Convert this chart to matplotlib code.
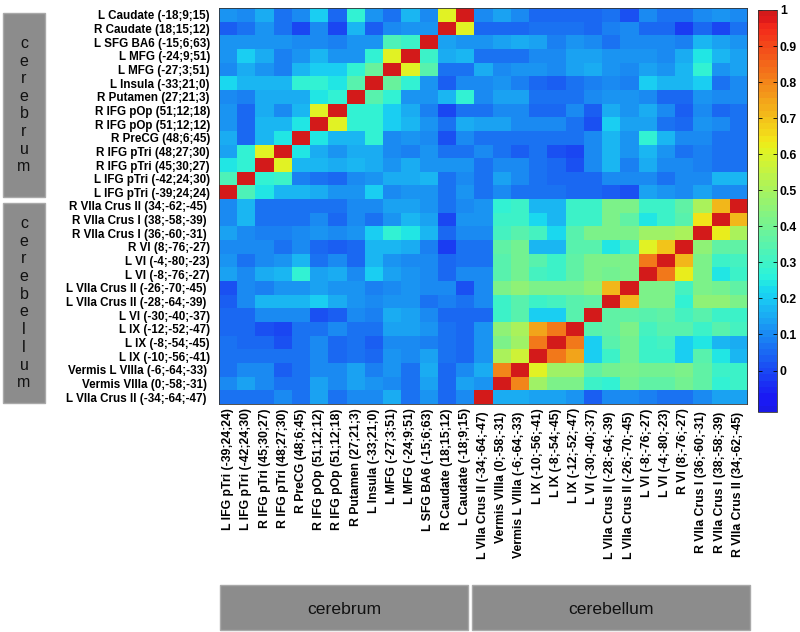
import numpy as np
import matplotlib
matplotlib.use("Agg")
import matplotlib.pyplot as plt
from matplotlib.colors import ListedColormap
from matplotlib.patches import Rectangle

# ---------------- data ----------------
# region names in column order (left -> right)
cerebrum_regions = [
    "L IFG pTri (-39;24;24)", "L IFG pTri (-42;24;30)", "R IFG pTri (45;30;27)",
    "R IFG pTri (48;27;30)", "R PreCG (48;6;45)", "R IFG pOp (51;12;12)",
    "R IFG pOp (51;12;18)", "R Putamen (27;21;3)", "L Insula (-33;21;0)",
    "L MFG (-27;3;51)", "L MFG (-24;9;51)", "L SFG BA6 (-15;6;63)",
    "R Caudate (18;15;12)", "L Caudate (-18;9;15)",
]
cerebellum_regions = [
    "L VIIa Crus II (-34;-64;-47)", "Vermis VIIIa (0;-58;-31)", "Vermis L VIIIa (-6;-64;-33)",
    "L IX (-10;-56;-41)", "L IX (-8;-54;-45)", "L IX (-12;-52;-47)", "L VI (-30;-40;-37)",
    "L VIIa Crus II (-28;-64;-39)", "L VIIa Crus II (-26;-70;-45)", "L VI (-8;-76;-27)",
    "L VI (-4;-80;-23)", "R VI (8;-76;-27)", "R VIIa Crus I (36;-60;-31)",
    "R VIIa Crus I (38;-58;-39)", "R VIIa Crus II (34;-62;-45)",
]

# rows listed top -> bottom (cerebrum regions in reverse order), columns = cerebrum order
cerebrum_block = [
    [0.12, 0.10, 0.15, 0.07, 0.10, 0.20, 0.05, 0.27, 0.12, 0.07, 0.17, 0.10, 0.60, 1.00],
    [0.04, 0.06, 0.12, 0.06, 0.00, 0.10, 0.00, 0.18, 0.03, 0.10, 0.12, 0.12, 1.00, 0.60],
    [0.12, 0.12, 0.12, 0.12, 0.10, 0.10, 0.08, 0.12, 0.12, 0.33, 0.30, 1.00, 0.13, 0.12],
    [0.12, 0.20, 0.15, 0.08, 0.12, 0.17, 0.12, 0.12, 0.27, 0.60, 1.00, 0.30, 0.15, 0.17],
    [0.10, 0.15, 0.12, 0.08, 0.17, 0.20, 0.20, 0.27, 0.38, 1.00, 0.60, 0.35, 0.06, 0.06],
    [0.22, 0.17, 0.17, 0.17, 0.27, 0.27, 0.25, 0.35, 1.00, 0.38, 0.27, 0.12, 0.03, 0.10],
    [0.10, 0.08, 0.15, 0.15, 0.15, 0.25, 0.27, 1.00, 0.35, 0.27, 0.12, 0.12, 0.17, 0.27],
    [0.12, 0.05, 0.15, 0.10, 0.17, 0.60, 1.00, 0.27, 0.27, 0.20, 0.15, 0.08, 0.00, 0.06],
    [0.12, 0.05, 0.17, 0.17, 0.25, 1.00, 0.60, 0.27, 0.27, 0.20, 0.17, 0.12, 0.06, 0.15],
    [0.15, 0.05, 0.17, 0.25, 1.00, 0.25, 0.17, 0.17, 0.27, 0.10, 0.12, 0.10, 0.02, 0.10],
    [0.13, 0.27, 0.60, 1.00, 0.25, 0.15, 0.12, 0.15, 0.15, 0.10, 0.08, 0.12, 0.06, 0.06],
    [0.25, 0.27, 1.00, 0.60, 0.17, 0.17, 0.15, 0.17, 0.15, 0.12, 0.15, 0.12, 0.12, 0.12],
    [0.33, 1.00, 0.27, 0.30, 0.08, 0.07, 0.05, 0.10, 0.12, 0.15, 0.15, 0.17, 0.06, 0.10],
    [1.00, 0.33, 0.25, 0.17, 0.17, 0.15, 0.12, 0.12, 0.20, 0.10, 0.12, 0.12, 0.06, 0.12],
]

# same rows (cerebrum, top -> bottom), columns = cerebellum order
cross_block = [
    [0.10, 0.13, 0.10, 0.05, 0.05, 0.05, 0.05, 0.07, 0.02, 0.10, 0.07, 0.07, 0.10, 0.12, 0.10],
    [0.05, 0.05, 0.05, 0.07, 0.07, 0.07, 0.05, 0.08, 0.10, 0.05, 0.05, -0.02, 0.05, 0.00, 0.07],
    [0.12, 0.14, 0.16, 0.14, 0.08, 0.12, 0.10, 0.07, 0.10, 0.10, 0.10, 0.08, 0.17, 0.13, 0.12],
    [0.06, 0.07, 0.07, 0.10, 0.10, 0.13, 0.14, 0.12, 0.12, 0.12, 0.10, 0.15, 0.25, 0.17, 0.13],
    [0.15, 0.10, 0.12, 0.12, 0.10, 0.14, 0.15, 0.12, 0.10, 0.13, 0.12, 0.17, 0.28, 0.12, 0.13],
    [0.10, 0.12, 0.08, 0.05, 0.03, 0.07, 0.08, 0.10, 0.08, 0.20, 0.17, 0.17, 0.20, 0.06, 0.10],
    [0.10, 0.13, 0.13, 0.07, 0.06, 0.07, 0.10, 0.12, 0.12, 0.10, 0.05, 0.05, 0.12, 0.10, 0.10],
    [0.06, 0.10, 0.10, 0.05, 0.05, 0.10, 0.04, 0.15, 0.12, 0.15, 0.10, 0.04, 0.10, 0.05, 0.07],
    [0.14, 0.13, 0.10, 0.10, 0.10, 0.07, 0.01, 0.20, 0.13, 0.13, 0.07, 0.05, 0.12, 0.10, 0.07],
    [0.07, 0.07, 0.07, 0.07, 0.07, 0.06, 0.10, 0.17, 0.12, 0.28, 0.17, 0.10, 0.10, 0.07, 0.07],
    [0.10, 0.07, 0.04, 0.06, 0.02, 0.00, 0.10, 0.17, 0.12, 0.17, 0.12, 0.07, 0.08, 0.07, 0.06],
    [0.06, 0.10, 0.10, 0.07, 0.05, 0.01, 0.10, 0.17, 0.08, 0.15, 0.10, 0.10, 0.08, 0.07, 0.06],
    [0.06, 0.14, 0.10, 0.07, 0.05, 0.05, 0.05, 0.10, 0.10, 0.10, 0.07, 0.10, 0.10, 0.17, 0.17],
    [0.06, 0.10, 0.07, 0.07, 0.06, 0.05, 0.05, 0.03, 0.02, 0.13, 0.12, 0.10, 0.13, 0.10, 0.10],
]

# rows top -> bottom (cerebellum regions in reverse order), columns = cerebellum order
cerebellum_block = [
    [0.12, 0.27, 0.30, 0.17, 0.17, 0.30, 0.30, 0.42, 0.42, 0.30, 0.30, 0.37, 0.50, 0.72, 1.00],
    [0.12, 0.30, 0.30, 0.22, 0.17, 0.30, 0.30, 0.42, 0.37, 0.25, 0.30, 0.35, 0.65, 1.00, 0.72],
    [0.10, 0.32, 0.35, 0.32, 0.22, 0.35, 0.42, 0.42, 0.42, 0.48, 0.48, 0.50, 1.00, 0.62, 0.50],
    [0.07, 0.37, 0.40, 0.17, 0.17, 0.35, 0.35, 0.25, 0.32, 0.60, 0.70, 1.00, 0.45, 0.37, 0.37],
    [0.07, 0.35, 0.40, 0.35, 0.30, 0.37, 0.42, 0.42, 0.42, 0.82, 1.00, 0.72, 0.42, 0.30, 0.32],
    [0.10, 0.35, 0.40, 0.32, 0.30, 0.37, 0.42, 0.40, 0.42, 1.00, 0.82, 0.62, 0.42, 0.25, 0.30],
    [0.10, 0.42, 0.45, 0.42, 0.42, 0.42, 0.45, 0.72, 1.00, 0.42, 0.42, 0.32, 0.42, 0.40, 0.37],
    [0.10, 0.30, 0.35, 0.30, 0.32, 0.35, 0.37, 1.00, 0.72, 0.42, 0.42, 0.27, 0.45, 0.45, 0.42],
    [0.05, 0.30, 0.35, 0.20, 0.20, 0.35, 1.00, 0.37, 0.37, 0.35, 0.37, 0.32, 0.35, 0.30, 0.30],
    [0.12, 0.45, 0.50, 0.75, 0.82, 1.00, 0.35, 0.37, 0.42, 0.32, 0.35, 0.35, 0.30, 0.35, 0.32],
    [0.12, 0.42, 0.48, 0.82, 1.00, 0.82, 0.20, 0.35, 0.40, 0.30, 0.32, 0.20, 0.25, 0.18, 0.15],
    [0.12, 0.50, 0.58, 1.00, 0.82, 0.75, 0.20, 0.30, 0.40, 0.30, 0.30, 0.20, 0.35, 0.25, 0.17],
    [0.15, 0.80, 1.00, 0.60, 0.48, 0.48, 0.37, 0.40, 0.42, 0.40, 0.40, 0.42, 0.37, 0.30, 0.30],
    [0.12, 1.00, 0.80, 0.48, 0.42, 0.42, 0.30, 0.27, 0.40, 0.37, 0.37, 0.40, 0.37, 0.27, 0.30],
    [1.00, 0.15, 0.15, 0.13, 0.13, 0.12, 0.04, 0.10, 0.10, 0.08, 0.07, 0.07, 0.10, 0.13, 0.13],
]

colorbar_ticks = [0, 0.1, 0.2, 0.3, 0.4, 0.5, 0.6, 0.7, 0.8, 0.9, 1]
colorbar_ticklabels = ["0", "0.1", "0.2", "0.3", "0.4", "0.5", "0.6", "0.7", "0.8", "0.9", "1"]
group_names = ["cerebrum", "cerebellum"]

# ---------------- assemble matrix (symmetric correlation matrix) ----------------
A = np.array(cerebrum_block)
B = np.array(cross_block)
Cb = np.array(cerebellum_block)
BL = B.T[::-1, ::-1]          # lower-left block follows from symmetry
M = np.block([[A, B], [BL, Cb]])

col_labels = cerebrum_regions + cerebellum_regions
row_labels = cerebrum_regions[::-1] + cerebellum_regions[::-1]


def padded(lbl):
    # the Crus / VIIIa labels sit slightly further from the matrix in the original
    return lbl + " " if "IIa" in lbl else lbl


# truncated, slightly muted jet (MATLAB-like, 64 steps)
base = plt.get_cmap("jet")(np.linspace(0.1, 0.92, 64))
mute = 0.15
base[:, :3] = base[:, :3] * (1 - mute) + 0.68 * mute
cmap = ListedColormap(base)
vmin, vmax = -0.115, 1.0

FONT = "Liberation Sans"
W, H = 800, 632
fig = plt.figure(figsize=(W / 100, H / 100), dpi=100)


def fax(x0, y0, x1, y1):
    return [x0 / W, 1 - y1 / H, (x1 - x0) / W, (y1 - y0) / H]


# background axes in pixel coordinates for group boxes
bg = fig.add_axes([0, 0, 1, 1], zorder=0)
bg.set_xlim(0, W)
bg.set_ylim(H, 0)
bg.axis("off")

ax = fig.add_axes(fax(219, 8, 747, 404), zorder=2)
im = ax.imshow(M, cmap=cmap, vmin=vmin, vmax=vmax, aspect="auto", interpolation="nearest")
n = len(col_labels)
ax.set_xticks(np.arange(n))
ax.set_xticklabels([padded(s) for s in col_labels], rotation=90, fontsize=8.85,
                   fontweight="bold", family=FONT)
ax.set_yticks(np.arange(n))
ax.set_yticklabels([padded(s) for s in row_labels], fontsize=8.4, fontweight="bold", family=FONT)
ax.tick_params(axis="both", length=0)
ax.tick_params(axis="x", pad=3)
ax.tick_params(axis="y", pad=6.5)
for s in ax.spines.values():
    s.set_linewidth(0.6)
    s.set_color("#333333")

cax = fig.add_axes(fax(758, 10, 777, 412), zorder=2)
cb = fig.colorbar(im, cax=cax, ticks=colorbar_ticks)
cb.ax.set_yticklabels(colorbar_ticklabels, fontsize=8.8, fontweight="bold", family=FONT)
cb.ax.tick_params(direction="in", length=3, width=0.6, left=True, right=True, pad=2)
cb.outline.set_linewidth(0.6)
cb.outline.set_edgecolor("#333333")

box_face = "#8c8c8c"
box_edge = "#a9a9a9"
# left group boxes
bg.add_patch(Rectangle((3, 13), 42, 184, facecolor=box_face, edgecolor=box_edge, lw=1))
bg.add_patch(Rectangle((3, 203), 42, 200, facecolor=box_face, edgecolor=box_edge, lw=1))
for i, ch in enumerate(group_names[0]):
    bg.text(24, 42 + 17.6 * i, ch, ha="center", va="center_baseline", fontsize=11.5,
            family=FONT, color="#111111")
for i, ch in enumerate(group_names[1]):
    bg.text(24, 222 + 17.7 * i, ch, ha="center", va="center_baseline", fontsize=11.5,
            family=FONT, color="#111111")

# bottom group boxes
bg.add_patch(Rectangle((220, 585), 248, 45, facecolor=box_face, edgecolor=box_edge, lw=1))
bg.add_patch(Rectangle((472, 585), 278, 45, facecolor=box_face, edgecolor=box_edge, lw=1))
bg.text(344, 608, group_names[0], ha="center", va="center_baseline", fontsize=12.6,
        family=FONT, color="#111111")
bg.text(611, 608, group_names[1], ha="center", va="center_baseline", fontsize=12.6,
        family=FONT, color="#111111")

fig.savefig("out.png", dpi=100, facecolor="white")
